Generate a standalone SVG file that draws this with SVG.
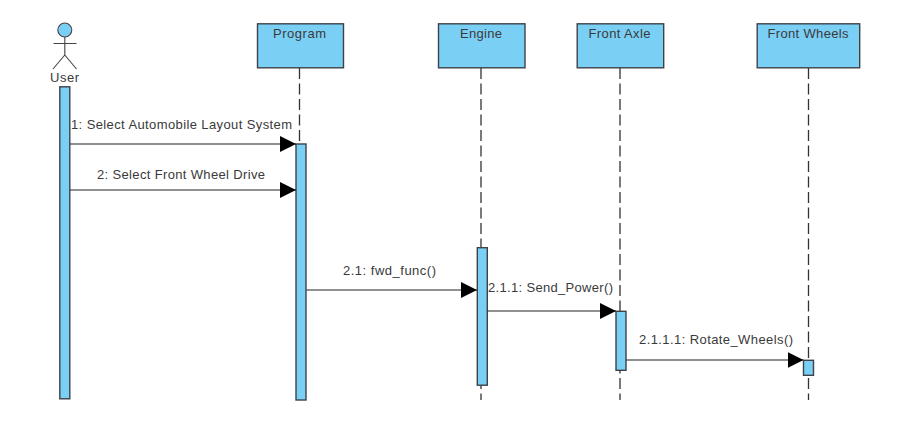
<svg xmlns="http://www.w3.org/2000/svg" width="919" height="445" viewBox="0 0 919 445">
<style>
.box{fill:#7acff5;stroke:#3c4248;stroke-width:1.4}
.life{fill:none;stroke:#333;stroke-width:1.3;stroke-dasharray:11 4.5}
.msg{fill:none;stroke:#222;stroke-width:1.2;marker-end:url(#head)}
.actor{fill:none;stroke:#444;stroke-width:1.1}
text{font-family:"Liberation Sans",Arial,sans-serif;font-size:13px;fill:#3a3a3a;text-anchor:middle}
</style>
<defs>
<marker id="head" markerUnits="userSpaceOnUse" markerWidth="18" markerHeight="18" refX="16" refY="9" orient="auto">
<path d="M0,1 L16,9 L0,17Z" fill="#000"/>
</marker>
</defs>
<rect width="919" height="445" fill="#fff"/>
<g id="lifelines">
<path class="life" d="M299.500,68V144"/>
<path class="life" d="M481,68V400"/>
<path class="life" d="M620,68V400"/>
<path class="life" d="M808.500,68V400"/>
</g>
<g id="user">
<circle cx="64.800" cy="30" r="7" fill="#7acff5" stroke="#444" stroke-width="1.1"/>
<path class="actor" d="M64.800,37V55M53.500,43.500H76.500M53,69L64.800,55L76.500,69"/>
<text x="64.500" y="81.500" textLength="29">User</text>
<rect class="box" x="59.800" y="86.800" width="10" height="312"/>
</g>
<g id="program">
<rect class="box" x="257.500" y="23.800" width="86" height="44"/>
<text x="299.500" y="38" textLength="53">Program</text>
<rect class="box" x="296" y="144" width="10" height="256"/>
</g>
<g id="engine">
<rect class="box" x="438.500" y="23.800" width="86.500" height="44"/>
<text x="481" y="38" textLength="42">Engine</text>
<rect class="box" x="477.300" y="247.700" width="10" height="137.500"/>
</g>
<g id="front-axle">
<rect class="box" x="577.200" y="23.800" width="86.500" height="44"/>
<text x="619.500" y="38" textLength="62">Front Axle</text>
<rect class="box" x="616" y="311.300" width="10" height="59"/>
</g>
<g id="front-wheels">
<rect class="box" x="757.200" y="23.800" width="102.500" height="44"/>
<text x="808" y="38" textLength="81">Front Wheels</text>
<rect class="box" x="803.500" y="360.300" width="10" height="15"/>
</g>
<g id="connectors">
<path class="msg" d="M70,144H296"/>
<path class="msg" d="M70,190H296"/>
<path class="msg" d="M306.500,290H477"/>
<path class="msg" d="M487.500,311H616"/>
<path class="msg" d="M626,360H803.500"/>
</g>
<g id="labels">
<text x="181.500" y="129" textLength="221">1: Select Automobile Layout System</text>
<text x="181" y="179" textLength="168">2: Select Front Wheel Drive</text>
<text x="389.500" y="275" textLength="93">2.1: fwd_func()</text>
<text x="550.500" y="292" textLength="125">2.1.1: Send_Power()</text>
<text x="716" y="344" textLength="154">2.1.1.1: Rotate_Wheels()</text>
</g>
</svg>
